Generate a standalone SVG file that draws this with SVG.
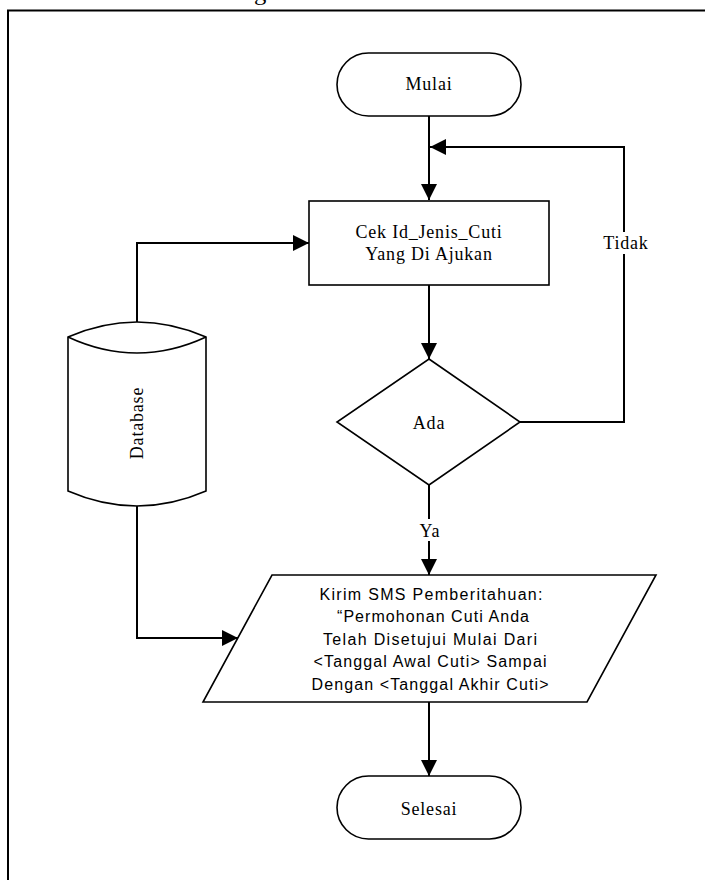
<svg xmlns="http://www.w3.org/2000/svg" width="705" height="880" viewBox="0 0 705 880">
  <style>
    .shape { fill: #ffffff; stroke: #000000; stroke-width: 1.6; }
    .edge { fill: none; stroke: #000000; stroke-width: 2; }
    .serif { font-family: "Liberation Serif", "Times New Roman", serif; font-size: 18px; letter-spacing: 0.8px; fill: #000000; text-anchor: middle; }
    .sans { font-family: "Liberation Sans", Arial, sans-serif; font-size: 16px; fill: #000000; text-anchor: middle; }
    .caption { font-family: "Liberation Serif", "Times New Roman", serif; font-size: 22px; fill: #000000; }
  </style>
  <defs>
    <marker id="arrow" viewBox="0 0 16 16" refX="16" refY="8" markerWidth="16" markerHeight="16" markerUnits="userSpaceOnUse" orient="auto">
      <path d="M0,0 L16,8 L0,16 Z" fill="#000000"/>
    </marker>
  </defs>

  <rect width="705" height="880" fill="#ffffff"/>

  <!-- caption line above the frame, running off the top edge -->
  <text class="caption" x="-12" y="0" textLength="632" lengthAdjust="spacingAndGlyphs">Gambar 4.8 Flowchart Pengiriman SMS Konfirmasi Status Cuti</text>

  <!-- frame -->
  <path d="M8,882 L8,10.5 L710,10.5" fill="none" stroke="#000000" stroke-width="2"/>

  <!-- connectors -->
  <g id="connectors">
    <path class="edge" d="M429,116 L429,200" marker-end="url(#arrow)"/>
    <path class="edge" d="M520,422 L624,422 L624,147 L430,147" marker-end="url(#arrow)"/>
    <path class="edge" d="M429,285 L429,359" marker-end="url(#arrow)"/>
    <path class="edge" d="M429,485 L429,575" marker-end="url(#arrow)"/>
    <path class="edge" d="M429,702 L429,776" marker-end="url(#arrow)"/>
    <path class="edge" d="M137,322 L137,243 L309,243" marker-end="url(#arrow)"/>
    <path class="edge" d="M137,506 L137,638 L238,638" marker-end="url(#arrow)"/>
    <!-- edge labels -->
    <rect x="415" y="519" width="30" height="22" fill="#ffffff"/>
    <text class="serif" x="430" y="537">Ya</text>
    <rect x="604" y="232" width="42" height="22" fill="#ffffff"/>
    <text class="serif" x="626" y="249">Tidak</text>
  </g>

  <!-- start -->
  <g id="mulai">
    <rect class="shape" x="337" y="53" width="184" height="63" rx="31.5" ry="31.5"/>
    <text class="serif" x="429" y="90">Mulai</text>
  </g>

  <!-- check process -->
  <g id="cek-jenis-cuti">
    <rect class="shape" x="309" y="201" width="240" height="84"/>
    <text class="serif" x="429" y="238">Cek Id_Jenis_Cuti</text>
    <text class="serif" x="429" y="260">Yang Di Ajukan</text>
  </g>

  <!-- decision -->
  <g id="ada">
    <path class="shape" d="M429,359 L520,422 L429,485 L337,422 Z"/>
    <text class="serif" x="429" y="429">Ada</text>
  </g>

  <!-- database store -->
  <g id="database">
    <path class="shape" d="M68,337 L68,491 Q137,521 206,491 L206,337 Q137,307 68,337 Z"/>
    <path class="shape" d="M68,337 Q137,369 206,337" fill="none"/>
    <text class="serif" transform="translate(143,423) rotate(-90)" x="0" y="0">Database</text>
  </g>

  <!-- output message -->
  <g id="kirim-sms">
    <path class="shape" d="M272,575 L656,575 L587,702 L203,702 Z"/>
    <text class="sans" x="431" y="600" textLength="223" lengthAdjust="spacing">Kirim SMS Pemberitahuan:</text>
    <text class="sans" x="433" y="622" textLength="192" lengthAdjust="spacing">“Permohonan Cuti Anda</text>
    <text class="sans" x="430" y="645" textLength="214" lengthAdjust="spacing">Telah Disetujui Mulai Dari</text>
    <text class="sans" x="430" y="667" textLength="233" lengthAdjust="spacing">&lt;Tanggal Awal Cuti&gt; Sampai</text>
    <text class="sans" x="430" y="690" textLength="237" lengthAdjust="spacing">Dengan &lt;Tanggal Akhir Cuti&gt;</text>
  </g>

  <!-- end -->
  <g id="selesai">
    <rect class="shape" x="337" y="776" width="184" height="63" rx="31.5" ry="31.5"/>
    <text class="serif" x="429" y="815">Selesai</text>
  </g>
</svg>
